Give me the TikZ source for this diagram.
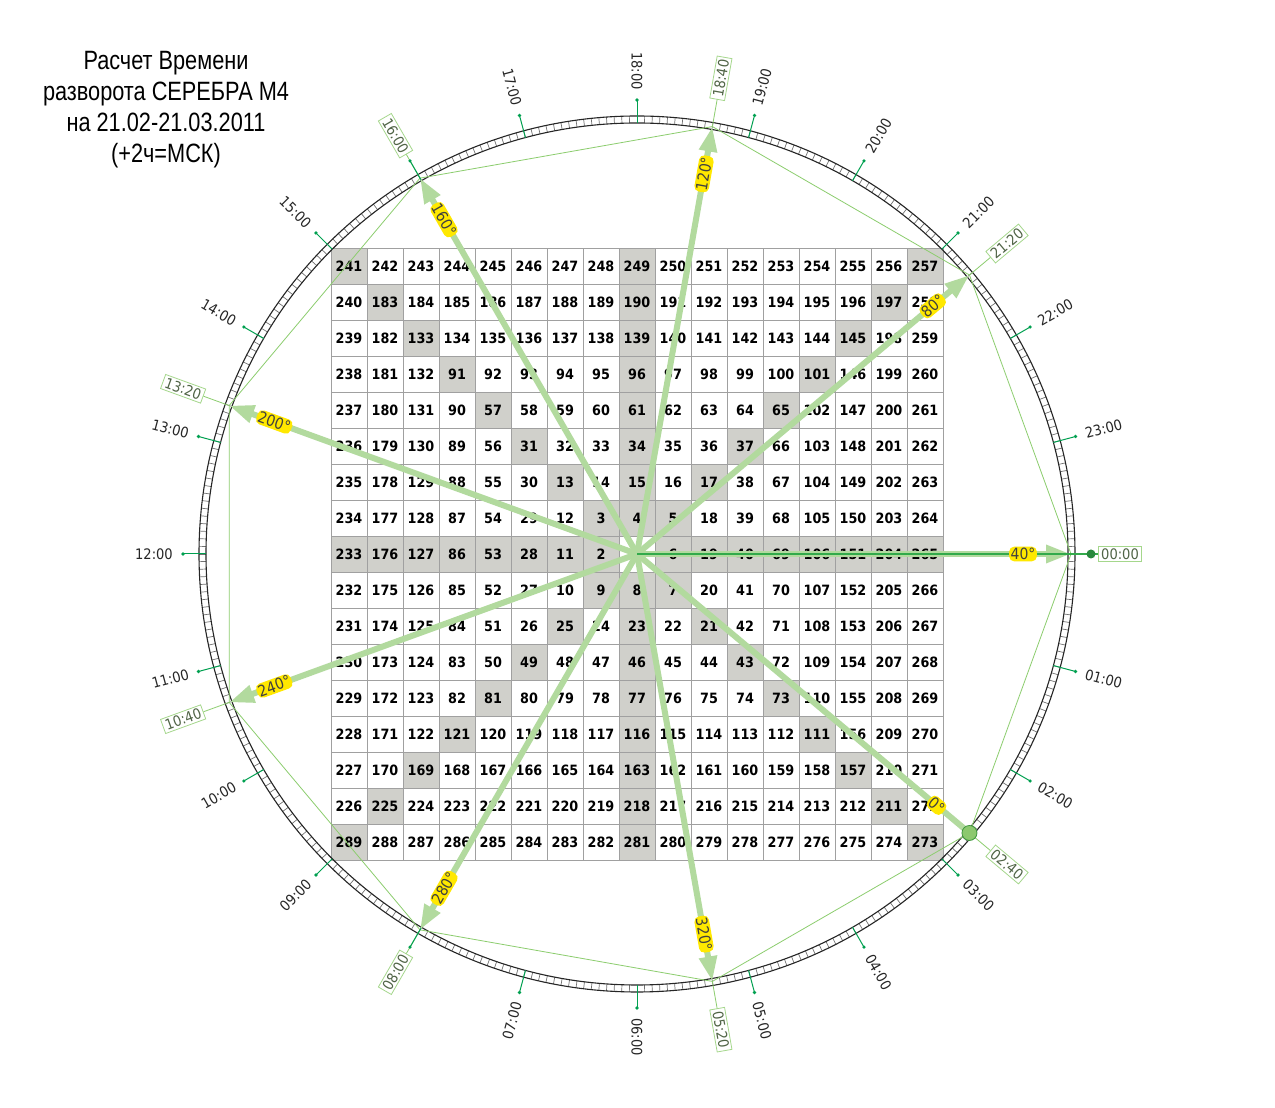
\documentclass[tikz,border=0pt]{standalone}
\usepackage{fontspec}
\setmainfont{DejaVu Sans}
\newfontfamily\tah[FakeStretch=0.9]{DejaVu Sans}
\newfontfamily\ttl[FakeStretch=0.82]{Liberation Sans}
\usetikzlibrary{arrows.meta}
\definecolor{arrowgreen}{RGB}{178,218,158}
\definecolor{polygreen}{RGB}{140,205,110}
\definecolor{tickgreen}{RGB}{0,160,80}
\definecolor{darkgreen}{RGB}{50,170,75}
\definecolor{cellgray}{RGB}{208,208,203}
\definecolor{gridgray}{RGB}{160,160,160}
\definecolor{ylw}{RGB}{255,232,0}
\definecolor{boxtext}{RGB}{80,100,70}
\definecolor{boxedge}{RGB}{165,215,140}
\definecolor{dotfill}{RGB}{140,200,110}
\definecolor{dotedge}{RGB}{60,150,60}
\newcommand\gcell[3]{%
  \pgfmathtruncatemacro\gq{((#1==0)||(#2==0)||(abs(#1)==abs(#2)))?1:0}%
  \pgfmathsetmacro\gx{637+36*(#1)}%
  \pgfmathsetmacro\gy{554-36*(#2)}%
  \ifnum\gq=1 \fill[cellgray] (\gx-18,\gy-18) rectangle ++(36,36);\fi
  \node[num] (n#3) at (\gx,\gy) {#3};}
\begin{document}
\begin{tikzpicture}[x=1pt,y=1pt,
  num/.style={font=\tah\bfseries\fontsize{14.2}{15}\selectfont, inner sep=0pt, text height=10.3pt, text depth=0pt},
  hourlab/.style={font=\tah\fontsize{14.5}{15}\selectfont, text=black!85, inner sep=1pt},
  tbox/.style={draw=boxedge, line width=0.8pt, fill=white, font=\tah\fontsize{14.5}{15}\selectfont, text=boxtext, inner xsep=2.5pt, inner ysep=2pt},
  ylab/.style={fill=ylw, rounded corners=5pt, font=\tah\fontsize{15.5}{16}\selectfont, text=black!75, inner xsep=1.5pt, inner ysep=1.5pt},
  arr/.style={draw=arrowgreen, line width=6pt},
  poly/.style={draw=polygreen, line width=0.8pt}]
\fill[white] (0,0) rectangle (1275,1108);
\useasboundingbox (0,0) rectangle (1275,1108);
\coordinate (C) at (637,554);
% grid cells
\node[num] (n1) at (C) {1};
\foreach \k in {1,...,8}{
  \pgfmathtruncatemacro\s{(2*\k-1)^2+1}
  \pgfmathtruncatemacro\m{2*\k-1}
  \foreach \i in {0,...,\m}{
    \pgfmathtruncatemacro\na{\s+\i}
    \pgfmathtruncatemacro\ra{\k-1-\i}
    \gcell{-\k}{\ra}{\na}
    \pgfmathtruncatemacro\nb{\s+2*\k+\i}
    \pgfmathtruncatemacro\cb{-\k+1+\i}
    \gcell{\cb}{-\k}{\nb}
    \pgfmathtruncatemacro\nc{\s+4*\k+\i}
    \pgfmathtruncatemacro\rc{-\k+1+\i}
    \gcell{\k}{\rc}{\nc}
    \pgfmathtruncatemacro\nd{\s+6*\k+\i}
    \pgfmathtruncatemacro\cd{\k-1-\i}
    \gcell{\cd}{\k}{\nd}
  }
}
\foreach \i in {0,...,17}{
  \draw[gridgray, line width=0.9pt] (331+36*\i,248) -- (331+36*\i,860);
  \draw[gridgray, line width=0.9pt] (331,248+36*\i) -- (943,248+36*\i);
}
% ring
\foreach \a in {0,...,359}
  \draw[black!55, line width=0.7pt] ([shift={(\a:431)}]C) -- ([shift={(\a:438)}]C);
\draw[black!85, line width=1.1pt] (C) circle (438);
\draw[black!85, line width=1.1pt] (C) circle (431);
% nine points and time boxes
\foreach \d/\t in {0/02:40,40/00:00,80/21:20,120/18:40,160/16:00,200/13:20,240/10:40,280/08:00,320/05:20}{
  \pgfmathtruncatemacro\ap{mod(\d-40+360,360)}
  \pgfmathtruncatemacro\rot{(\ap>269 || \ap<90) ? \ap : \ap+180}
  \coordinate (P\d) at ([shift={(\ap:434)}]C);
  \node[tbox, rotate=\rot] (tb\d) at ([shift={(\ap:483)}]C) {\t};
}
\draw[poly] (P0) -- (P40) -- (P80) -- (P120) -- (P160) -- (P200) -- (P240) -- (P280) -- (P320) -- cycle;
\foreach \d in {0,40,...,320}
  \draw[poly] (P\d) -- (tb\d);
% hour ticks
\foreach \h in {0,...,23}{
  \pgfmathtruncatemacro\a{-15*\h}
  \draw[tickgreen, line width=1pt] ([shift={(\a:431)}]C) -- ([shift={(\a:454)}]C) coordinate (hd\h);
  \fill[tickgreen] (hd\h) circle (1.8);
}
\foreach \h in {1,2,3,4,5,6,7,9,10,11,12,13,14,15,17,18,19,20,21,22,23}{
  \pgfmathtruncatemacro\ap{mod(360-15*\h,360)}
  \pgfmathtruncatemacro\rot{(\ap>269 || \ap<90) ? \ap : \ap+180}
  \node[hourlab, rotate=\rot] (hl\h) at ([shift={(\ap:483)}]C) {\ifnum\h<10 0\fi\h:00};
}
% arrows
\draw[arr] (C) -- (P0);
\foreach \d in {40,80,...,320}
  \draw[arr, -{Triangle[length=25pt,width=17pt]}] (C) -- (P\d);
\draw[darkgreen, line width=1.3pt] (C) -- (tb40);
\node[circle, fill=darkgreen!80!black, minimum size=9pt, inner sep=0pt] (bigdot) at (hd0) {};
\node[circle, fill=dotfill, draw=dotedge, line width=0.8pt, minimum size=15pt, inner sep=0pt] (dot0) at (P0) {};
% yellow labels
\foreach \d in {0,40,...,320}{
  \pgfmathtruncatemacro\ap{mod(\d-40+360,360)}
  \pgfmathtruncatemacro\rot{(\ap>269 || \ap<90) ? \ap : \ap+180}
  \pgfmathsetmacro\rr{\d==0 ? 391 : 386}
  \node[ylab, rotate=\rot] (yl\d) at ([shift={(\ap:\rr)}]C) {\d°};
}
% title
\node[font=\ttl\fontsize{26.5}{31}\selectfont, align=center] (title) at (166,998)
  {Расчет Времени\\разворота СЕРЕБРА М4\\на 21.02-21.03.2011\\(+2ч=МСК)};
\end{tikzpicture}
\end{document}
